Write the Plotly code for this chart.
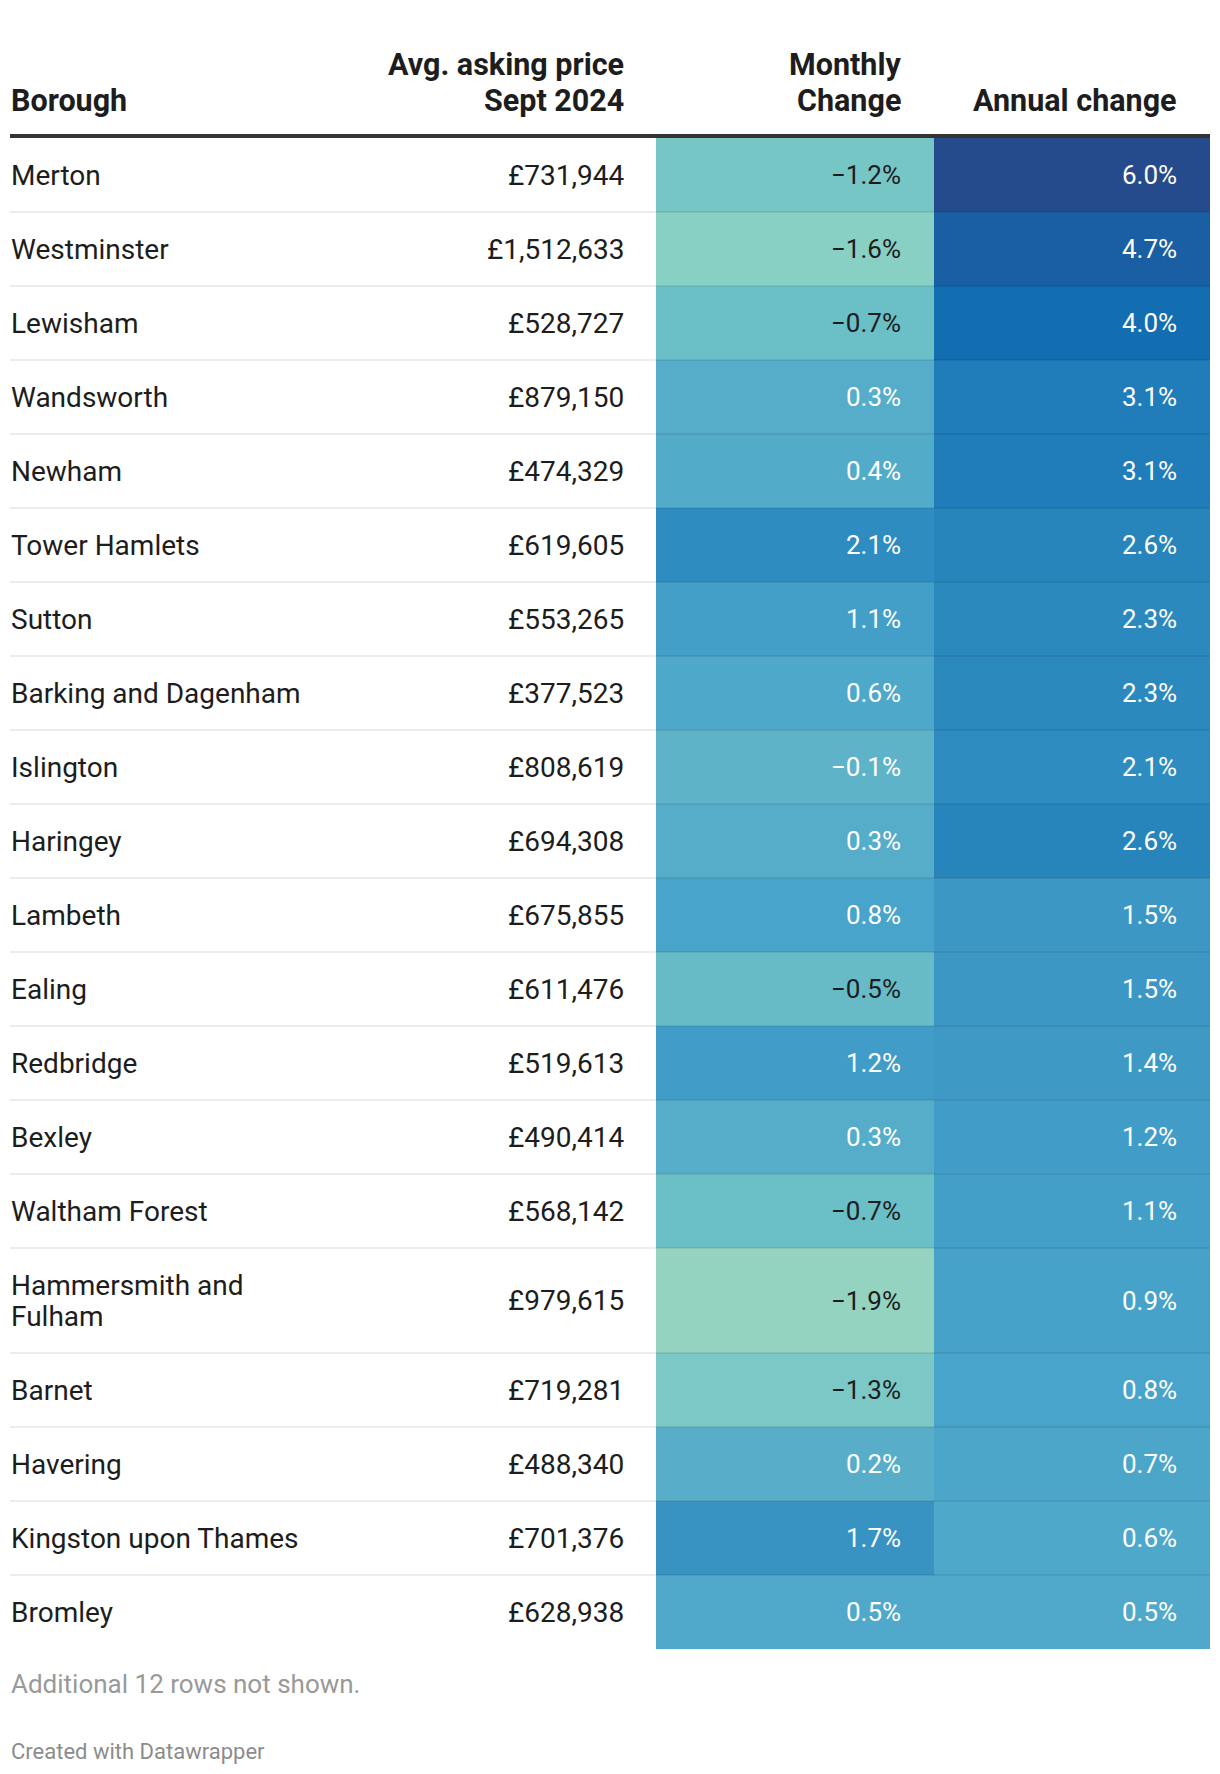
import textwrap
import plotly.graph_objects as go

# ---------------- data ----------------
boroughs = ["Merton", "Westminster", "Lewisham", "Wandsworth", "Newham",
            "Tower Hamlets", "Sutton", "Barking and Dagenham", "Islington",
            "Haringey", "Lambeth", "Ealing", "Redbridge", "Bexley",
            "Waltham Forest", "Hammersmith and Fulham", "Barnet", "Havering",
            "Kingston upon Thames", "Bromley"]
prices = [731944, 1512633, 528727, 879150, 474329, 619605, 553265, 377523,
          808619, 694308, 675855, 611476, 519613, 490414, 568142, 979615,
          719281, 488340, 701376, 628938]
monthly_change = [-1.2, -1.6, -0.7, 0.3, 0.4, 2.1, 1.1, 0.6, -0.1, 0.3, 0.8,
                  -0.5, 1.2, 0.3, -0.7, -1.9, -1.3, 0.2, 1.7, 0.5]
annual_change = [6.0, 4.7, 4.0, 3.1, 3.1, 2.6, 2.3, 2.3, 2.1, 2.6, 1.5, 1.5,
                 1.4, 1.2, 1.1, 0.9, 0.8, 0.7, 0.6, 0.5]
headers = ["Borough", "Avg. asking price<br>Sept 2024", "Monthly<br>Change",
           "Annual change"]
note_text = "Additional 12 rows not shown."
credit_text = "Created with Datawrapper"

# ---------------- style ----------------
PAGE_W, PAGE_H = 1220, 1774
BODY_MARGIN = 8                       # default html body margin
FIG_W = PAGE_W - 2 * BODY_MARGIN
FIG_H = PAGE_H - 2 * BODY_MARGIN
FONT = "Roboto"
FS_TEXT = 28
FS_PCT = 26
FS_HEAD = 30.5
DARK = "#1d1d1d"
LEFT, RIGHT = 10, 1210
COL_EDGES = [656, 934, 1210]          # colour columns
PRICE_RIGHT = 625
TEXT_INSET = 32                       # right padding in colour cells
TABLE_TOP = 138
ROW_H = 74
LINE_H = 31
HEAD_LINE_H = 36
WRAP = 20

# colour ramp anchors (value, colour)
ramp = [(-1.9, "#94d3c0"), (-1.6, "#88cfc4"), (-1.2, "#77c6c6"),
        (-0.7, "#6bbfc6"), (-0.1, "#5fb3c8"), (0.4, "#53abca"),
        (0.8, "#48a4ca"), (1.2, "#419dc7"), (1.5, "#3c97c4"),
        (2.1, "#2f8cc0"), (2.6, "#2885bc"), (3.1, "#217dba"),
        (4.0, "#136db1"), (4.7, "#1a5fa3"), (6.0, "#264b8c")]
zmin, zmax = ramp[0][0], ramp[-1][0]
colorscale = [[(v - zmin) / (zmax - zmin), c] for v, c in ramp]


def fmt_pct(v):
    return f"{v:.1f}%".replace("-", "\u2212")


# row geometry derived from label wrapping
label_lines = [textwrap.wrap(b, WRAP) for b in boroughs]
heights = [ROW_H + LINE_H * (len(ls) - 1) for ls in label_lines]
edges = [TABLE_TOP]
for h in heights:
    edges.append(edges[-1] + h)
centers = [(edges[i] + edges[i + 1]) / 2 for i in range(len(heights))]

fig = go.Figure()

z = [[m, a] for m, a in zip(monthly_change, annual_change)]
fig.add_trace(go.Heatmap(
    x=COL_EDGES, y=edges, z=z, colorscale=colorscale, zmin=zmin, zmax=zmax,
    showscale=False, hoverinfo="skip"))

# row separators
sx, sy = [], []
for e in edges[1:-1]:
    sx += [LEFT, RIGHT, None]
    sy += [e, e, None]
fig.add_trace(go.Scatter(x=sx, y=sy, mode="lines",
                         line=dict(color="rgba(0,0,0,0.075)", width=2),
                         hoverinfo="skip", showlegend=False))

ann = []
for i, lines in enumerate(label_lines):
    yc = centers[i]
    n = len(lines)
    for k, ln in enumerate(lines):
        ann.append(dict(x=LEFT, y=yc + (k - (n - 1) / 2) * LINE_H, text=ln,
                        xanchor="left", yanchor="middle",
                        font=dict(size=FS_TEXT, color=DARK)))
    ann.append(dict(x=PRICE_RIGHT, y=yc, text=f"£{prices[i]:,}",
                    xanchor="right", yanchor="middle",
                    font=dict(size=FS_TEXT, color=DARK)))
    for j, v in enumerate([monthly_change[i], annual_change[i]]):
        col = DARK if v <= -0.5 else "#ffffff"
        ann.append(dict(x=COL_EDGES[j + 1] - TEXT_INSET, y=yc, text=fmt_pct(v),
                        xanchor="right", yanchor="middle",
                        font=dict(size=FS_PCT, color=col)))

# headers (bottom-aligned, one annotation per line)
hdr_x = [LEFT, PRICE_RIGHT, COL_EDGES[1] - TEXT_INSET, COL_EDGES[2] - TEXT_INSET]
hdr_anchor = ["left", "right", "right", "right"]
for t, x, a in zip(headers, hdr_x, hdr_anchor):
    parts = t.split("<br>")
    for k, part in enumerate(reversed(parts)):
        ann.append(dict(x=x, y=TABLE_TOP - 19 - k * HEAD_LINE_H,
                        text=f"<b>{part}</b>", xanchor=a, yanchor="bottom",
                        font=dict(size=FS_HEAD, color=DARK)))

ann.append(dict(x=LEFT, y=edges[-1] + 35, text=note_text, xanchor="left",
                yanchor="middle", font=dict(size=26, color="#999999")))
ann.append(dict(x=LEFT, y=edges[-1] + 102, text=credit_text, xanchor="left",
                yanchor="middle", font=dict(size=22, color="#8c8c8c")))

for a in ann:
    a.update(xref="x", yref="y", showarrow=False, borderpad=0)

fig.update_layout(
    width=FIG_W, height=FIG_H, margin=dict(l=0, r=0, t=0, b=0),
    paper_bgcolor="white", plot_bgcolor="white",
    font=dict(family=FONT, size=FS_TEXT, color=DARK),
    xaxis=dict(range=[BODY_MARGIN, BODY_MARGIN + FIG_W], visible=False,
               fixedrange=True),
    yaxis=dict(range=[BODY_MARGIN + FIG_H, BODY_MARGIN], visible=False,
               fixedrange=True),
    annotations=ann,
    shapes=[dict(type="line", xref="x", yref="y", x0=LEFT, x1=RIGHT,
                 y0=TABLE_TOP - 2, y1=TABLE_TOP - 2,
                 line=dict(color="#333333", width=4))],
    showlegend=False,
)

fig.write_html("out.html")
